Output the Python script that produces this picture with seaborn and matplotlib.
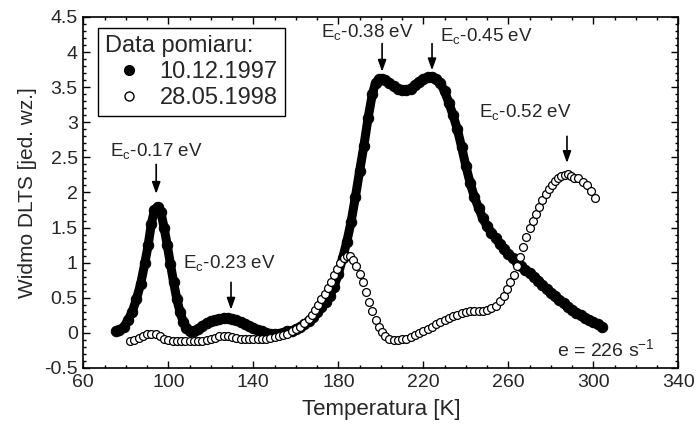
import matplotlib
matplotlib.use("Agg")
import matplotlib.pyplot as plt
from matplotlib.lines import Line2D
from matplotlib.ticker import MultipleLocator
import numpy as np
import pandas as pd
import seaborn as sns

# ---- data: 10.12.1997 (filled) ----
t_1997 = [75.5, 77, 79, 81, 83, 85, 87, 89, 90.5, 92, 93.5, 95, 96.5, 98, 99.5,
          101, 102.5, 104, 105.5, 107, 108.5, 110, 112, 114, 116, 118, 120, 122,
          124, 126, 128, 130, 132, 134, 136, 138, 140, 142, 144, 146, 148, 150,
          152, 154, 156, 158, 160, 162, 164, 166, 168, 170, 172, 174, 176, 178,
          180, 182, 184, 186, 188, 190, 192, 194, 196, 197.5, 199, 200.5, 202,
          204, 206, 208, 210, 212, 214, 216, 218, 220, 222, 224, 226, 228, 230,
          232, 234, 236, 238, 240, 242, 244, 246, 248, 250, 252, 254, 256, 258,
          260, 262, 264, 266, 268, 270, 272, 274, 276, 278, 280, 282, 284, 286,
          288, 290, 292, 294, 296, 298, 300, 302, 304]
v_1997 = [0.03, 0.04, 0.08, 0.18, 0.30, 0.48, 0.70, 1.00, 1.25, 1.55, 1.75, 1.80,
          1.72, 1.50, 1.25, 0.98, 0.72, 0.48, 0.30, 0.16, 0.07, 0.03, 0.02, 0.05,
          0.10, 0.14, 0.17, 0.19, 0.20, 0.21, 0.21, 0.20, 0.18, 0.16, 0.13, 0.10,
          0.07, 0.04, 0.02, 0.00, -0.01, -0.01, -0.01, 0.00, 0.02, 0.03, 0.05,
          0.08, 0.12, 0.17, 0.23, 0.30, 0.37, 0.44, 0.53, 0.66, 0.84, 1.06, 1.30,
          1.58, 1.93, 2.30, 2.66, 3.06, 3.40, 3.56, 3.61, 3.62, 3.60, 3.56, 3.51,
          3.48, 3.46, 3.46, 3.48, 3.53, 3.58, 3.62, 3.64, 3.64, 3.62, 3.56, 3.44,
          3.28, 3.10, 2.90, 2.65, 2.38, 2.14, 1.94, 1.78, 1.63, 1.52, 1.43, 1.35,
          1.27, 1.20, 1.13, 1.07, 1.01, 0.95, 0.90, 0.85, 0.80, 0.74, 0.68, 0.62,
          0.57, 0.52, 0.47, 0.42, 0.37, 0.33, 0.29, 0.25, 0.21, 0.18, 0.15, 0.12,
          0.09]

# ---- data: 28.05.1998 (open) ----
t_1998 = [82, 84, 86, 88, 90, 92, 94, 96, 98, 100, 102, 104, 106, 108, 110, 112,
          114, 116, 118, 120, 122, 124, 126, 128, 130, 132, 134, 136, 138, 140,
          142, 144, 146, 148, 150, 152, 154, 156, 158, 160, 162, 164, 166, 167.5,
          169, 170.5, 172, 173.5, 175, 176.5, 178, 179.5, 181, 182.5, 184, 185.5,
          187, 188.5, 190, 191.5, 193, 194.5, 196, 197.5, 199, 200.5, 202, 204,
          206, 208, 210, 212, 214, 216, 218, 220, 222, 224, 226, 228, 230, 232,
          234, 236, 238, 240, 242, 244, 246, 248, 250, 252, 254, 256, 258, 259.5,
          261, 262.5, 264, 265.5, 267, 268.5, 270, 271.5, 273, 274.5, 276, 277.5,
          279, 280.5, 282, 283.5, 285, 286.5, 288, 289.5, 291, 293, 295, 297, 299,
          301]
v_1998 = [-0.12, -0.10, -0.07, -0.04, -0.02, -0.01, -0.02, -0.05, -0.08, -0.10,
          -0.11, -0.12, -0.12, -0.12, -0.12, -0.12, -0.11, -0.11, -0.10, -0.09,
          -0.07, -0.05, -0.04, -0.05, -0.06, -0.07, -0.08, -0.09, -0.09, -0.09,
          -0.09, -0.08, -0.08, -0.07, -0.06, -0.05, -0.03, -0.01, 0.02, 0.05,
          0.09, 0.14, 0.20, 0.26, 0.33, 0.40, 0.48, 0.56, 0.64, 0.73, 0.82, 0.91,
          0.99, 1.06, 1.10, 1.09, 1.04, 0.95, 0.84, 0.72, 0.58, 0.44, 0.31, 0.19,
          0.09, 0.01, -0.05, -0.09, -0.10, -0.10, -0.09, -0.08, -0.06, -0.03,
          0.00, 0.03, 0.06, 0.09, 0.12, 0.15, 0.18, 0.21, 0.24, 0.26, 0.28, 0.30,
          0.31, 0.31, 0.31, 0.31, 0.32, 0.35, 0.39, 0.45, 0.53, 0.62, 0.72, 0.83,
          0.95, 1.08, 1.22, 1.36, 1.49, 1.60, 1.70, 1.80, 1.90, 1.98, 2.05, 2.11,
          2.16, 2.20, 2.23, 2.25, 2.26, 2.24, 2.20, 2.20, 2.15, 2.10, 2.02, 1.92]

legend_title = "Data pomiaru:"
series_labels = ["10.12.1997", "28.05.1998"]

# annotations: text, text position, arrow x, arrow (start, tip) y
annot_text = ["E$_\\mathrm{c}$-0.17 eV", "E$_\\mathrm{c}$-0.23 eV", "E$_\\mathrm{c}$-0.38 eV",
              "E$_\\mathrm{c}$-0.45 eV", "E$_\\mathrm{c}$-0.52 eV"]
annot_text_xy = [(94.3, 2.58), (128.5, 0.98), (193.5, 4.27), (249.5, 4.22), (268.0, 3.13)]
annot_arrow_x = [94.3, 129.5, 200.6, 224.1, 287.6]
annot_arrow_y = [(2.40, 1.98), (0.72, 0.33), (4.12, 3.72), (4.12, 3.74), (2.80, 2.42)]

df97 = pd.DataFrame({"T": t_1997, "V": v_1997})
df98 = pd.DataFrame({"T": t_1998, "V": v_1998})

sns.set_style("ticks")
plt.rcParams["font.family"] = ["Liberation Sans", "DejaVu Sans"]
plt.rcParams["mathtext.fontset"] = "custom"
plt.rcParams["mathtext.rm"] = "Liberation Sans"

fig = plt.figure(figsize=(6.96, 4.30), dpi=100)
ax = fig.add_axes([0.1197, 0.1442, 0.9746 - 0.1197, 0.9605 - 0.1442])

sns.lineplot(data=df97, x="T", y="V", ax=ax, color="black", linewidth=6.5,
             marker="o", markersize=7.5, markeredgecolor="black",
             solid_capstyle="round", solid_joinstyle="round", sort=False, zorder=2)
sns.scatterplot(data=df98, x="T", y="V", ax=ax, s=32, facecolor="white",
                edgecolor="black", linewidth=0.9, zorder=3)

ax.set_xlim(60, 340)
ax.set_ylim(-0.5, 4.5)
ax.xaxis.set_minor_locator(MultipleLocator(10))
ax.yaxis.set_minor_locator(MultipleLocator(0.1))
ax.set_xticks([60, 100, 140, 180, 220, 260, 300, 340])
ax.set_xticklabels(["60", "100", "140", "180", "220", "260", "300", "340"])
ax.set_yticks([-0.5, 0, 0.5, 1, 1.5, 2, 2.5, 3, 3.5, 4, 4.5])
ax.set_yticklabels(["-0.5", "0", "0.5", "1", "1.5", "2", "2.5", "3", "3.5", "4", "4.5"])
ax.tick_params(which="both", direction="in", top=True, right=True, labelsize=14,
               color="black", width=1.0)
ax.tick_params(which="major", length=5, pad=4)
ax.tick_params(which="minor", length=2.5)
for sp in ax.spines.values():
    sp.set_visible(True)
    sp.set_linewidth(1.2)
    sp.set_color("black")

ax.set_xlabel("Temperatura [K]", fontsize=16, labelpad=6)
ax.set_ylabel("Widmo DLTS [jed. wz.]", fontsize=15, labelpad=5)

for txt, (tx, ty), ax_x, (y0, y1) in zip(annot_text, annot_text_xy, annot_arrow_x, annot_arrow_y):
    ax.text(tx, ty, txt, fontsize=13.5, ha="center", va="center")
    ax.annotate("", xy=(ax_x, y1), xytext=(ax_x, y0),
                arrowprops=dict(arrowstyle="-|>,head_length=0.7,head_width=0.25",
                                color="black", lw=1.2, shrinkA=0, shrinkB=0))

ax.text(329, -0.24, "e = 226 s$^{-1}$", fontsize=14, ha="right", va="center")

handles = [Line2D([], [], linestyle="none", marker="o", markersize=7,
                  markerfacecolor="black", markeredgecolor="black"),
           Line2D([], [], linestyle="none", marker="o", markersize=6.5,
                  markerfacecolor="white", markeredgecolor="black", markeredgewidth=1.0)]
leg = ax.legend(handles, series_labels, title=legend_title, loc="upper left",
                bbox_to_anchor=(0.025, 0.97), fontsize=17, title_fontsize=17,
                frameon=True, fancybox=False, edgecolor="black", framealpha=1,
                borderpad=0.3, handletextpad=0.3, labelspacing=0.18,
                handlelength=2.0, alignment="left", borderaxespad=0.0)
leg.get_frame().set_linewidth(1.0)

fig.savefig("out.png", dpi=100)
